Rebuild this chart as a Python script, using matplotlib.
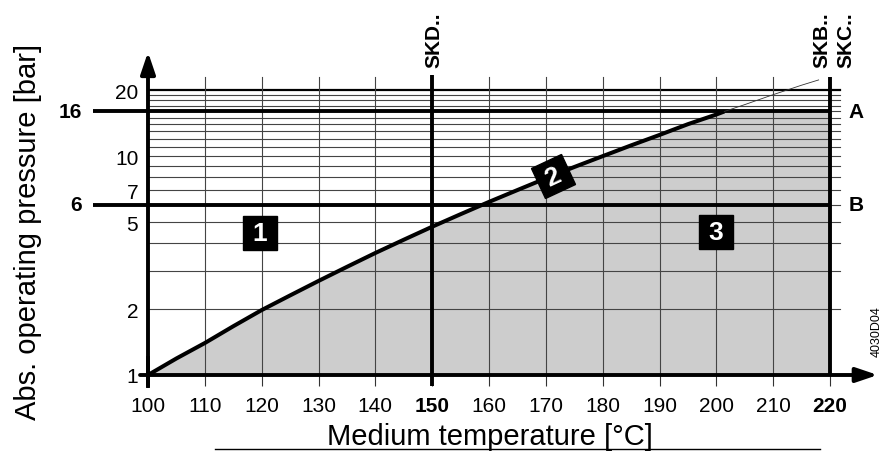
import matplotlib
matplotlib.use("Agg")
import matplotlib.pyplot as plt
from matplotlib.markers import MarkerStyle
from matplotlib.transforms import Affine2D
from matplotlib.lines import Line2D
from matplotlib.ticker import NullLocator

plt.rcParams['font.family'] = ['Liberation Sans', 'DejaVu Sans']

# ---- data ----
temp_c = [100, 105, 110, 115, 120, 125, 130, 135, 140, 145, 150, 155,
          160, 165, 170, 175, 180, 185, 190, 195, 200, 201.4]
p_bar = [1.0, 1.19, 1.40, 1.67, 1.98, 2.31, 2.69, 3.12, 3.61, 4.15, 4.76, 5.43,
         6.18, 7.00, 7.92, 8.92, 10.0, 11.2, 12.5, 14.0, 15.5, 16.0]
ext_temp = [201.4, 205, 210, 215, 218]
ext_p = [16.0, 17.2, 19.1, 21.1, 22.3]

x_ticks = [100, 110, 120, 130, 140, 150, 160, 170, 180, 190, 200, 210, 220]
x_tick_labels = [str(v) for v in x_ticks]
bold_x = ['150', '220']
y_ticks = [1, 2, 5, 7, 10, 20]
y_tick_labels = ['1', '2', '5', '7', '10', '20']

grid_p = [2, 3, 4, 5, 6, 7, 8, 9, 10, 11, 12, 13, 14, 15, 16, 17, 18, 19]
top_p = 20
grid_t = [110, 120, 130, 140, 160, 170, 180, 190, 200, 210]
rated_p = [16, 6]
rated_names = ['A', 'B']
rated_labels = ['16', '6']
model_t = [150, 220]
t_max = 220
zone_labels = ['1', '2', '3']

fig = plt.figure(figsize=(8.86, 4.52), dpi=100)
ax = fig.add_axes([148 / 886, 76 / 452, 682 / 886, 298 / 452])
ax.set_yscale('log')
ax.set_xlim(100, 220)
ax.set_ylim(1, 23)
for s in ax.spines.values():
    s.set_visible(False)
ax.yaxis.set_minor_locator(NullLocator())
ax.xaxis.set_minor_locator(NullLocator())

ax.set_xticks(x_ticks, x_tick_labels)
ax.set_yticks(y_ticks, y_tick_labels)
ax.tick_params(axis='x', length=8, width=0.8, color='#333333', pad=7, labelsize=15)
ax.tick_params(axis='y', length=0, pad=7, labelsize=15)
for lbl in ax.get_xticklabels():
    if lbl.get_text() in bold_x:
        lbl.set_fontweight('bold')

# gray admissible region
ax.fill_between(temp_c + [t_max], p_bar + [rated_p[0]], 1,
                color='#cdcdcd', lw=0, zorder=1)

# grid
for p in grid_p:
    ax.plot([100, 221.8], [p, p], color='#444444', lw=0.8, zorder=2, clip_on=False)
ax.plot([100, 221.8], [top_p, top_p], color='black', lw=1.6, zorder=2, clip_on=False)
for t in grid_t:
    ax.plot([t, t], [1, 23], color='#444444', lw=0.8, zorder=2, clip_on=False)

# rated pressure lines
for p, nm, lab in zip(rated_p, rated_names, rated_labels):
    ax.plot([90.3, 220], [p, p], color='black', lw=2.8, zorder=3,
            clip_on=False, solid_capstyle='butt')
    ax.text(224.6, p, nm, ha='center', va='center', fontsize=15,
            fontweight='bold')
    ax.text(88.3, p, lab, ha='right', va='center', fontsize=15,
            fontweight='bold')

# model temperature lines
ax.plot([model_t[0]] * 2, [0.89, 23.4], color='black', lw=2.8, zorder=3,
        clip_on=False, solid_capstyle='butt')
ax.plot([model_t[1]] * 2, [1, 23], color='black', lw=2.8, zorder=3,
        clip_on=False, solid_capstyle='butt')
ax.text(150.3, 25.6, 'SKD..', rotation=90, ha='center', va='bottom',
        fontsize=15, fontweight='bold')
ax.text(218.6, 25.6, 'SKB..', rotation=90, ha='center', va='bottom',
        fontsize=15, fontweight='bold')
ax.text(222.8, 25.6, 'SKC..', rotation=90, ha='center', va='bottom',
        fontsize=15, fontweight='bold')

# saturated steam curve
ax.plot(temp_c, p_bar, color='black', lw=2.9, zorder=4, solid_capstyle='butt',
        solid_joinstyle='round')
ax.plot(ext_temp, ext_p, color='#333333', lw=0.6, zorder=4, clip_on=False)

# axes with arrows
ax.plot([100, 100], [0.89, 1.2], color='black', lw=2.8, zorder=5, clip_on=False)
ax.annotate('', xy=(100, 29.9), xytext=(100, 0.89), xycoords='data',
            annotation_clip=False,
            arrowprops=dict(arrowstyle='-|>,head_length=0.65,head_width=0.22',
                            lw=2.8, color='black', mutation_scale=20,
                            shrinkA=0, shrinkB=0), zorder=5)
ax.annotate('', xy=(228.4, 1), xytext=(98.6, 1), xycoords='data',
            annotation_clip=False,
            arrowprops=dict(arrowstyle='-|>,head_length=0.65,head_width=0.22',
                            lw=2.8, color='black', mutation_scale=20,
                            shrinkA=0, shrinkB=0), zorder=5)

# zone markers
zone_pos = [(119.7, 4.45, 0), (171.3, 8.1, 25), (199.9, 4.5, 0)]
for lab, (x, y, rot) in zip(zone_labels, zone_pos):
    ms = MarkerStyle('s', transform=Affine2D().rotate_deg(rot))
    ax.plot([x], [y], marker=ms, markersize=24, color='black', zorder=6,
            clip_on=False, lw=0)
    ax.text(x, y, lab, rotation=rot, ha='center', va='center', color='white',
            fontsize=19, fontweight='bold', zorder=7, rotation_mode='anchor')

# axis titles
fig.text(28 / 886, 1 - 232 / 452, 'Abs. operating pressure [bar]', rotation=90,
         ha='center', va='center', fontsize=21)
fig.text(490 / 886, 1 - 445 / 452, 'Medium temperature [°C]', ha='center',
         va='baseline', fontsize=21)
fig.add_artist(Line2D([215 / 886, 820 / 886], [1 - 450 / 452, 1 - 450 / 452],
                      color='black', lw=1))
fig.text(877 / 886, 1 - 332 / 452, '4030D04', rotation=90, ha='center',
         va='center', fontsize=9)

fig.savefig('out.png', dpi=100)
